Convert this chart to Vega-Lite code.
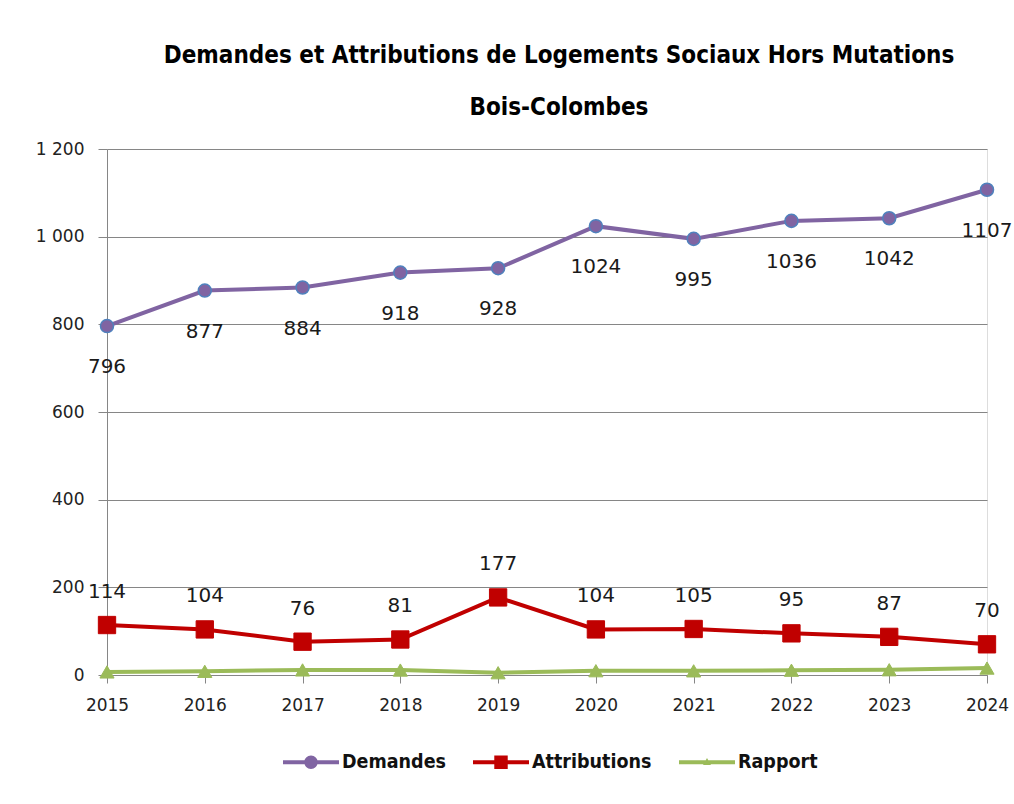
{
  "$schema": "https://vega.github.io/schema/vega-lite/v6.json",
  "width": 880,
  "height": 526,
  "autosize": {"type": "none"},
  "padding": {"left": 107, "top": 149, "right": 27, "bottom": 129},
  "background": "white",
  "title": {
    "text": ["Demandes et Attributions de Logements Sociaux Hors Mutations", "Bois-Colombes"],
    "font": "DejaVu Sans Condensed",
    "fontSize": 24,
    "fontWeight": "bold",
    "color": "#000000",
    "lineHeight": 52,
    "anchor": "middle",
    "dx": 12,
    "offset": 20
  },
  "data": {
    "values": [
      {"year": "2015", "series": "Demandes", "value": 796},
      {"year": "2016", "series": "Demandes", "value": 877},
      {"year": "2017", "series": "Demandes", "value": 884},
      {"year": "2018", "series": "Demandes", "value": 918},
      {"year": "2019", "series": "Demandes", "value": 928},
      {"year": "2020", "series": "Demandes", "value": 1024},
      {"year": "2021", "series": "Demandes", "value": 995},
      {"year": "2022", "series": "Demandes", "value": 1036},
      {"year": "2023", "series": "Demandes", "value": 1042},
      {"year": "2024", "series": "Demandes", "value": 1107},
      {"year": "2015", "series": "Attributions", "value": 114},
      {"year": "2016", "series": "Attributions", "value": 104},
      {"year": "2017", "series": "Attributions", "value": 76},
      {"year": "2018", "series": "Attributions", "value": 81},
      {"year": "2019", "series": "Attributions", "value": 177},
      {"year": "2020", "series": "Attributions", "value": 104},
      {"year": "2021", "series": "Attributions", "value": 105},
      {"year": "2022", "series": "Attributions", "value": 95},
      {"year": "2023", "series": "Attributions", "value": 87},
      {"year": "2024", "series": "Attributions", "value": 70},
      {"year": "2015", "series": "Rapport", "value": 7.0},
      {"year": "2016", "series": "Rapport", "value": 8.4},
      {"year": "2017", "series": "Rapport", "value": 11.6},
      {"year": "2018", "series": "Rapport", "value": 11.3},
      {"year": "2019", "series": "Rapport", "value": 5.2},
      {"year": "2020", "series": "Rapport", "value": 9.8},
      {"year": "2021", "series": "Rapport", "value": 9.5},
      {"year": "2022", "series": "Rapport", "value": 10.9},
      {"year": "2023", "series": "Rapport", "value": 12.0},
      {"year": "2024", "series": "Rapport", "value": 15.8}
    ]
  },
  "encoding": {
    "x": {
      "field": "year",
      "type": "ordinal",
      "scale": {"type": "point", "padding": 0},
      "axis": {
        "title": null,
        "labelAngle": 0,
        "labelFont": "DejaVu Sans",
        "labelFontSize": 17,
        "labelColor": "#222222",
        "labelPadding": 14,
        "tickSize": 8,
        "tickColor": "#868686",
        "domainColor": "#868686",
        "grid": false
      }
    },
    "y": {
      "field": "value",
      "type": "quantitative",
      "scale": {"domain": [0, 1200], "nice": false},
      "axis": {
        "title": null,
        "values": [0, 200, 400, 600, 800, 1000, 1200],
        "labelExpr": "replace(format(datum.value, ','), ',', ' ')",
        "labelFont": "DejaVu Sans",
        "labelFontSize": 17,
        "labelColor": "#222222",
        "labelPadding": 14,
        "tickSize": 9,
        "tickColor": "#868686",
        "domainColor": "#868686",
        "grid": true,
        "gridColor": "#868686",
        "gridWidth": 1
      }
    }
  },
  "layer": [
    {
      "mark": {"type": "line", "strokeWidth": 4},
      "encoding": {
        "color": {
          "field": "series",
          "type": "nominal",
          "scale": {"domain": ["Demandes", "Attributions", "Rapport"], "range": ["#8064A2", "#C00000", "#9BBB59"]},
          "legend": {
            "title": null,
            "orient": "none",
            "legendX": 176,
            "legendY": 585,
            "direction": "horizontal",
            "symbolSize": 3136,
            "symbolStrokeWidth": 0,
            "labelFont": "DejaVu Sans Condensed",
            "labelFontSize": 19.5,
            "labelFontWeight": "bold",
            "labelColor": "#111111",
            "labelOffset": 3,
            "columnPadding": 27,
            "encode": {
              "symbols": {
                "update": {
                  "shape": {"signal": "datum.value === 'Demandes' ? 'M-1,-0.075H1V0.075H-1Z M0.24,0A0.24,0.24,0,1,1,-0.24,0A0.24,0.24,0,1,1,0.24,0Z' : datum.value === 'Attributions' ? 'M-1,-0.075H1V0.075H-1Z M-0.24,-0.24H0.24V0.24H-0.24Z' : 'M-1,-0.075H1V0.075H-1Z M0,-0.15L0.14,0.1H-0.14Z'"},
                  "fill": {"scale": "color", "field": "value"},
                  "fillOpacity": {"value": 1},
                  "strokeWidth": {"value": 0}
                }
              }
            }
          }
        },
        "order": {"field": "year"}
      }
    },
    {
      "transform": [{"filter": "datum.series === 'Demandes'"}],
      "mark": {"type": "point", "shape": "circle", "filled": true, "opacity": 1, "size": 170, "fill": "#8064A2", "stroke": "#4F81BD", "strokeWidth": 1.5}
    },
    {
      "transform": [{"filter": "datum.series === 'Attributions'"}],
      "mark": {"type": "point", "shape": "square", "filled": true, "opacity": 1, "size": 300, "fill": "#C00000", "stroke": "#C00000", "strokeWidth": 1}
    },
    {
      "transform": [{"filter": "datum.series === 'Rapport'"}],
      "mark": {"type": "point", "shape": "triangle-up", "filled": true, "opacity": 1, "size": 200, "fill": "#9BBB59", "stroke": "#9BBB59", "strokeWidth": 1}
    },
    {
      "transform": [{"filter": "datum.series === 'Demandes'"}],
      "mark": {"type": "text", "dy": 41, "font": "DejaVu Sans", "fontSize": 20, "color": "#1a1a1a"},
      "encoding": {"text": {"field": "value", "type": "quantitative"}}
    },
    {
      "transform": [{"filter": "datum.series === 'Attributions'"}],
      "mark": {"type": "text", "dy": -33, "font": "DejaVu Sans", "fontSize": 20, "color": "#1a1a1a"},
      "encoding": {"text": {"field": "value", "type": "quantitative"}}
    }
  ]
}
